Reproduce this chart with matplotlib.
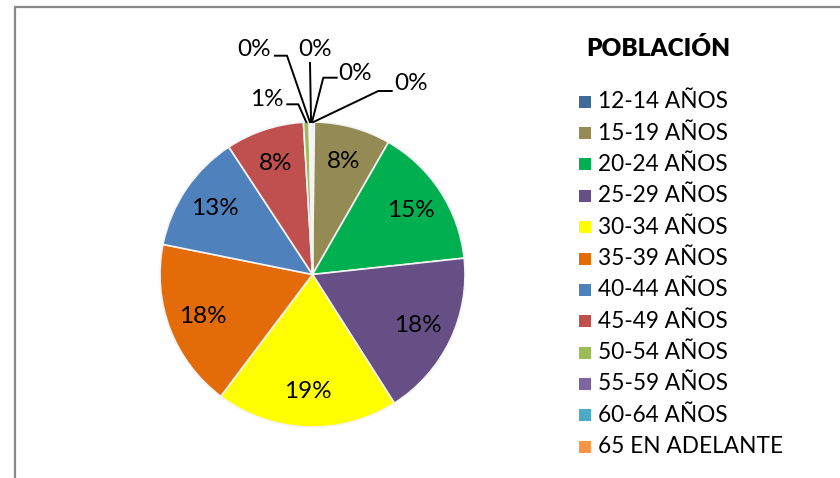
import matplotlib
matplotlib.use('Agg')
import matplotlib.pyplot as plt
from matplotlib.patches import Rectangle
import numpy as np

plt.rcParams['font.family'] = ['Lato', 'DejaVu Sans']

# datos (porcentaje aproximado de cada grupo)
grupos = ['12-14 AÑOS', '15-19 AÑOS', '20-24 AÑOS', '25-29 AÑOS', '30-34 AÑOS',
          '35-39 AÑOS', '40-44 AÑOS', '45-49 AÑOS', '50-54 AÑOS', '55-59 AÑOS',
          '60-64 AÑOS', '65 EN ADELANTE']
valores = [0.2, 8.1, 15.0, 17.7, 19.3, 17.9, 12.6, 8.3, 0.6, 0.15, 0.1, 0.1]
colores = ['#416a9c', '#948a54', '#00b050', '#654f85', '#ffff00', '#e36c09',
           '#4f81bd', '#c0504d', '#9bbb59', '#8064a2', '#4bacc6', '#f79646']
titulo = 'POBLACIÓN'

W, H = 840, 478
fig = plt.figure(figsize=(W / 100, H / 100), dpi=100)

def fx(px):
    return px / W

def fy(py):
    return 1 - py / H

# marco del grafico
fig.patches.append(Rectangle((fx(15), -0.1), 1.2, fy(7) + 0.1, transform=fig.transFigure,
                             fill=False, edgecolor='#8a8a8a', linewidth=1.6))

cx, cy, r = 312.5, 274.5, 152.5
ax = fig.add_axes([fx(cx - r), (H - cy - r) / H, 2 * r / W, 2 * r / H])

total = sum(valores)
wedges, _ = ax.pie(valores, colors=colores, startangle=90, counterclock=False, radius=1,
                   wedgeprops=dict(edgecolor='#f4f4f4', linewidth=1.2))
ax.set_xlim(-1, 1)
ax.set_ylim(-1, 1)
ax.set_aspect('equal')
ax.axis('off')

def px2d(px, py):
    return (px - cx) / r, (cy - py) / r

fs = 17.5
# etiquetas dentro de las porciones grandes
for w, v in zip(wedges, valores):
    pct = v / total * 100
    ang = np.deg2rad((w.theta1 + w.theta2) / 2)
    if pct >= 5:
        ax.text(0.77 * np.cos(ang), 0.77 * np.sin(ang), '%d%%' % round(pct),
                ha='center', va='center', fontsize=fs, color='black')

# etiquetas con lineas guia para las porciones pequeñas
# indice: (centro del texto, puntos de la guia) en pixeles
guias = {
    0: ((411, 84), [(391.7, 91), (378.3, 91)]),
    11: ((355, 74), [(336.7, 77.7), (323.3, 77.7)]),
    10: ((315, 50), [(310, 63)]),
    9: ((254, 49), [(275, 55.7), (287, 55.7)]),
    8: ((266.7, 100), [(287.3, 104.3), (298.3, 104.3)]),
}
for i, (pos, pts) in guias.items():
    w = wedges[i]
    pct = valores[i] / total * 100
    ang = np.deg2rad((w.theta1 + w.theta2) / 2)
    xs = [px2d(*p)[0] for p in pts] + [np.cos(ang)]
    ys = [px2d(*p)[1] for p in pts] + [np.sin(ang)]
    ax.plot(xs, ys, color='black', linewidth=1.4, clip_on=False)
    tx, ty = px2d(*pos)
    ax.text(tx, ty, '%d%%' % round(pct), ha='center', va='center', fontsize=fs,
            color='black', clip_on=False)

# leyenda
fig.text(fx(658), fy(48.3), titulo, ha='center', va='center', fontsize=17.5,
         fontweight='heavy', color='black')
y0, dy = 101.7, 31.36
for k, (g, c) in enumerate(zip(grupos, colores)):
    yy = y0 + k * dy
    fig.patches.append(Rectangle((fx(579), fy(yy + 6)), 12 / W, 12 / H,
                                 transform=fig.transFigure, facecolor=c, edgecolor='none'))
    fig.text(fx(598), fy(yy), g, ha='left', va='center', fontsize=16.3, color='black')

fig.savefig('out.png', dpi=100)
